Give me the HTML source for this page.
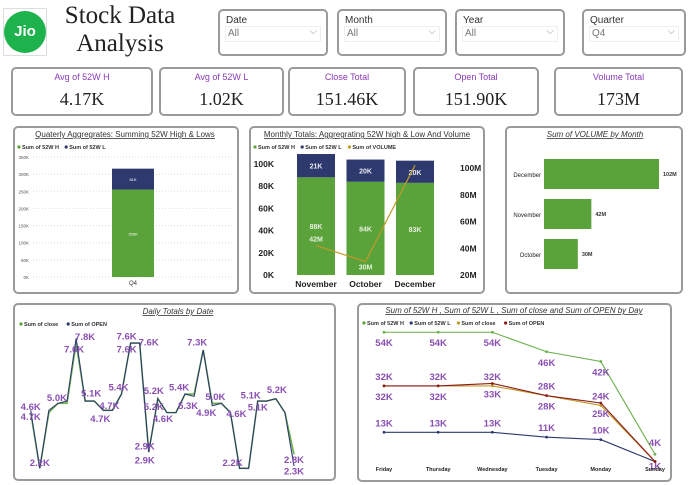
<!DOCTYPE html>
<html><head><meta charset="utf-8"><style>
body{margin:0;width:691px;height:485px;background:#fff;position:relative;overflow:hidden;font-family:"Liberation Sans",sans-serif}
.card{position:absolute;border:2px solid #9a9a9a;border-radius:5px;background:#fff;box-sizing:border-box}
.sl{font-size:10px;color:#333}
.sl .lab{position:absolute;left:6px;top:4px}
.sl .val{position:absolute;left:5px;right:5px;top:15px;height:14px;border:1px solid #eee;color:#777;padding-left:2px;line-height:14px}
.sl .val:after{content:"⌵";position:absolute;right:3px;top:-2px;color:#999}
.kpi .t{position:absolute;left:0;right:0;top:3px;text-align:center;font-size:9px;color:#8a3ab9}
.kpi .v{position:absolute;left:0;right:0;top:20px;text-align:center;font-family:"Liberation Serif",serif;font-size:18px;color:#222}
svg text{font-family:"Liberation Sans",sans-serif}
</style></head><body>
<div class="card" style="left:3px;top:8px;width:44px;height:48px;border:1px solid #ddd;border-radius:0">
<div style="position:absolute;left:0;top:2px;width:42px;height:42px;border-radius:50%;background:#1db24c;color:#fff;font-weight:bold;font-size:15px;line-height:42px;text-align:center">Jio</div></div>
<div style="position:absolute;left:55px;top:2px;width:130px;text-align:center;font-family:'Liberation Serif',serif;font-size:25px;line-height:28px;color:#222">Stock Data<br>Analysis</div>
<div class="card sl" style="left:218px;top:9px;width:110px;height:47px"><span class="lab">Date</span><div class="val">All</div></div>
<div class="card sl" style="left:337px;top:9px;width:110px;height:47px"><span class="lab">Month</span><div class="val">All</div></div>
<div class="card sl" style="left:455px;top:9px;width:110px;height:47px"><span class="lab">Year</span><div class="val">All</div></div>
<div class="card sl" style="left:582px;top:9px;width:104px;height:47px"><span class="lab">Quarter</span><div class="val">Q4</div></div>

<div class="card kpi" style="left:11px;top:67px;width:142px;height:49px"><div class="t">Avg of 52W H</div><div class="v">4.17K</div></div>
<div class="card kpi" style="left:159px;top:67px;width:125px;height:49px"><div class="t">Avg of 52W L</div><div class="v">1.02K</div></div>
<div class="card kpi" style="left:288px;top:67px;width:118px;height:49px"><div class="t">Close Total</div><div class="v">151.46K</div></div>
<div class="card kpi" style="left:413px;top:67px;width:126px;height:49px"><div class="t">Open Total</div><div class="v">151.90K</div></div>
<div class="card kpi" style="left:554px;top:67px;width:129px;height:49px"><div class="t">Volume Total</div><div class="v">173M</div></div>

<div class="card" style="left:13px;top:126px;width:226px;height:168px"></div>
<div class="card" style="left:249px;top:126px;width:236px;height:168px"></div>
<div class="card" style="left:505px;top:126px;width:178px;height:168px"></div>
<div class="card" style="left:13px;top:303px;width:323px;height:178px"></div>
<div class="card" style="left:357px;top:303px;width:315px;height:179px"></div>

<svg id="s" width="691" height="485" style="position:absolute;left:0;top:0" xmlns="http://www.w3.org/2000/svg"></svg>
<script>
// Quarterly
const qCats=["Q4"];const qHigh=[255];const qLow=[61];const qTicks=[0,50,100,150,200,250,300,350];
// Monthly
const mCats=["November","October","December"];const mHigh=[88,84,83];const mLow=[21,20,20];const mVol=[42,30,102];
const mLeftTicks=[0,20,40,60,80,100];const mRightTicks=[20,40,60,80,100];
// Volume by month
const vCats=["December","November","October"];const vVals=[102,42,30];
// Daily
const dClose=[4.6,2.2,4.6,5.0,5.0,7.6,5.1,5.1,4.7,4.7,5.4,7.6,7.6,2.9,5.2,4.6,4.6,5.4,5.4,7.3,5.0,5.0,4.6,2.2,2.2,5.1,5.1,5.2,4.6,2.8];
const dOpen=[4.7,2.2,4.7,5.0,5.1,7.8,5.1,5.1,4.7,4.7,5.4,7.6,7.6,2.9,5.2,4.6,4.6,5.4,5.3,7.3,4.9,5.0,4.6,2.2,2.2,5.1,5.1,5.2,4.6,2.3];
// By day
const dayCats=["Friday","Thursday","Wednesday","Tuesday","Monday","Sunday"];
const day52H=[54,54,54,46,42,4];const day52L=[13,13,13,11,10,1];const dayClose=[32,32,32,28,24,1];const dayOpen=[32,32,33,28,25,1];

const S=document.getElementById('s');const NS="http://www.w3.org/2000/svg";
function mk(t,a,txt){const e=document.createElementNS(NS,t);for(const k in a)e.setAttribute(k,a[k]);if(txt!=null)e.textContent=txt;S.appendChild(e);return e;}
function fmt(v){return (Math.round(v*10)/10).toFixed(1)+"K";}
function title(x,y,t,it,n){const e=mk('text',{x:x,y:y,'text-anchor':'middle','font-size':8,fill:'#333','text-decoration':'underline','font-style':it?'italic':'normal'},t);}
function legend(x,y,items,n){let cx=x;items.forEach(([c,l])=>{const d=mk('circle',{cx:cx+2,cy:y-2,r:1.6,fill:c});const t=mk('text',{x:cx+5,y:y,'font-size':5.5,fill:'#333','font-weight':'bold'},l);cx+=l.length*3.1+10;});}

// Quarterly chart
title(125,137,"Quaterly Aggregrates: Summing 52W High & Lows",false,'quarterly-title');
legend(17,149,[["#5aa23a","Sum of 52W H"],["#2e3a6e","Sum of 52W L"]],'quarterly-legend');
const qy=v=>277-v*120/350;
qTicks.forEach(t=>{const g=mk('line',{x1:33,x2:232,y1:qy(t),y2:qy(t),stroke:'#ddd','stroke-dasharray':'1,2'});const l=mk('text',{x:29,y:qy(t)+2,'text-anchor':'end','font-size':4.5,fill:'#555'},t+"K");});
qCats.forEach((c,i)=>{const x=112;const a=mk('rect',{x:x,y:qy(qHigh[i]),width:42,height:qy(0)-qy(qHigh[i]),fill:'#5aa23a'});
const b=mk('rect',{x:x,y:qy(qHigh[i]+qLow[i]),width:42,height:qy(0)-qy(qLow[i]),fill:'#2e3a6e'});
const t1=mk('text',{x:x+21,y:(qy(0)+qy(qHigh[i]))/2+2,'text-anchor':'middle','font-size':4,fill:'#fff'},qHigh[i]+"K");
const t2=mk('text',{x:x+21,y:(qy(qHigh[i])+qy(qHigh[i]+qLow[i]))/2+2,'text-anchor':'middle','font-size':4,fill:'#fff'},qLow[i]+"K");
const xl=mk('text',{x:x+21,y:285,'text-anchor':'middle','font-size':6,fill:'#333'},c);});

// Monthly chart
title(367,137,"Monthly Totals: Aggregrating 52W high & Low And Volume",false,'monthly-title');
legend(253,149,[["#5aa23a","Sum of 52W H"],["#2e3a6e","Sum of 52W L"],["#c09a2a","Sum of VOLUME"]],'monthly-legend');
const my=v=>275-v*1.11;const ry=v=>275-(v-20)*107/80;const mx=i=>297+i*49.5;
mLeftTicks.forEach(t=>{const l=mk('text',{x:274,y:my(t)+3,'text-anchor':'end','font-size':8.5,'font-weight':'bold',fill:'#222'},t+"K");});
mRightTicks.forEach(t=>{const l=mk('text',{x:460,y:ry(t)+3,'font-size':8.5,'font-weight':'bold',fill:'#222'},t+"M");});
mCats.forEach((c,i)=>{const x=mx(i);
const a=mk('rect',{x:x,y:my(mHigh[i]),width:38,height:my(0)-my(mHigh[i]),fill:'#5aa23a'});
const b=mk('rect',{x:x,y:my(mHigh[i]+mLow[i]),width:38,height:my(0)-my(mLow[i]),fill:'#2e3a6e'});
const t1=mk('text',{x:x+19,y:my(mHigh[i]/2)+3,'text-anchor':'middle','font-size':7,'font-weight':'bold',fill:'#e8f0e0'},mHigh[i]+"K");
const t2=mk('text',{x:x+19,y:my(mHigh[i]+mLow[i]/2)+3,'text-anchor':'middle','font-size':7,'font-weight':'bold',fill:'#e8e8f0'},mLow[i]+"K");
const xl=mk('text',{x:x+19,y:287,'text-anchor':'middle','font-size':8.5,'font-weight':'bold',fill:'#222'},c);});
const vp=mk('polyline',{points:mVol.map((v,i)=>(mx(i)+19)+","+ry(v)).join(" "),fill:'none',stroke:'#c09a2a','stroke-width':1.2});
mVol.forEach((v,i)=>{if(i==2)return;const t=mk('text',{x:mx(i)+19,y:ry(v)-4+(i==1?12:0),'text-anchor':'middle','font-size':7,'font-weight':'bold',fill:'#e8f0e0'},v+"M");});

// Volume by month
title(595,137,"Sum of VOLUME by Month",true,'volume-title');
const vx=v=>544+v*115/102;
vCats.forEach((c,i)=>{const y=159+i*40;const r=mk('rect',{x:544,y:y,width:vx(vVals[i])-544,height:30,fill:'#5aa23a'});
const l=mk('text',{x:541,y:y+18,'text-anchor':'end','font-size':6,fill:'#222'},c);
const v=mk('text',{x:vx(vVals[i])+4,y:y+17,'font-size':5.5,'font-weight':'bold',fill:'#333'},vVals[i]+"M");});

// Daily
title(178,314,"Daily Totals by Date",true,'daily-title');
legend(19,326,[["#5aa23a","Sum of close"],["#2e3a6e","Sum of OPEN"]],'daily-legend');
const dx=i=>30.7+i*9.08;const dy=v=>468.3-(v-2.2)*23.2;
const pc=mk('polyline',{points:dClose.map((v,i)=>dx(i)+","+dy(v)).join(" "),fill:'none',stroke:'#6ab04c','stroke-width':1.6});
const po=mk('polyline',{points:dOpen.map((v,i)=>dx(i)+","+dy(v)).join(" "),fill:'none',stroke:'#2e3a6e','stroke-width':1.1});
// label placement: [index, series, dx offset, dy offset of label centre]
const dLabelSpec=[[0,'c',0,-6],[0,'o',0,6],[1,'c',0,-6],[3,'c',-1,-6],[5,'o',9,-2],[5,'c',-2,6],[6,'c',6,-8],[8,'o',-3,8],[9,'c',-3,-5],[10,'c',-3,-7],[11,'c',-4,-7],[11,'o',-4,6],[12,'c',9,-1],[13,'c',-4,-6],[13,'o',-4,8],[14,'c',-4,-8],[14,'o',-4,8],[15,'o',-4,6],[17,'c',-6,-7],[18,'o',-6,9],[19,'c',-6,-8],[21,'c',-6,-7],[20,'o',-6,7],[22,'c',6,1],[23,'c',-7,-6],[25,'c',-7,-6],[26,'o',-9,6],[27,'c',1,-9],[29,'c',0,5],[29,'o',0,5]];
dLabelSpec.forEach(([i,s,ox,oy])=>{const v=s==='c'?dClose[i]:dOpen[i];const t=mk('text',{x:dx(i)+ox,y:dy(v)+oy+3.5,'text-anchor':'middle','font-size':9.5,'font-weight':'bold',fill:'#8a4fb3'},fmt(v));

});

// By day
title(514,313,"Sum of 52W H , Sum of 52W L , Sum of close and Sum of OPEN by Day",true,'day-title');
legend(362,325,[["#5aa23a","Sum of 52W H"],["#2e3a6e","Sum of 52W L"],["#c09a2a","Sum of close"],["#8b1a1a","Sum of OPEN"]],'day-legend');
const wx=i=>384+i*54.2;const wy=v=>464-v*2.44;
[[day52H,'#6ab04c','day-52w-high-line'],[day52L,'#2e3a6e','day-52w-low-line'],[dayClose,'#c09a2a','day-close-line'],[dayOpen,'#8b1a1a','day-open-line']].forEach(([arr,c,n])=>{
const p=mk('polyline',{points:arr.map((v,i)=>wx(i)+","+wy(v)).join(" "),fill:'none',stroke:c,'stroke-width':1.1});
arr.forEach((v,i)=>{const d=mk('circle',{cx:wx(i),cy:wy(v),r:1.4,fill:c});});
});
day52H.forEach((v,i)=>{const t=mk('text',{x:wx(i),y:wy(v)+(i==5?-8:14),'text-anchor':'middle','font-size':9.5,'font-weight':'bold',fill:'#8a4fb3'},v+"K");});
day52L.forEach((v,i)=>{const t=mk('text',{x:wx(i),y:wy(v)-6+(i==5?14:0),'text-anchor':'middle','font-size':9.5,'font-weight':'bold',fill:'#8a4fb3'},v+"K");});
dayClose.forEach((v,i)=>{if(i==5)return;const t=mk('text',{x:wx(i),y:wy(v)-6,'text-anchor':'middle','font-size':9.5,'font-weight':'bold',fill:'#8a4fb3'},v+"K");});
dayOpen.forEach((v,i)=>{if(i==5)return;const t=mk('text',{x:wx(i),y:wy(v)+14,'text-anchor':'middle','font-size':9.5,'font-weight':'bold',fill:'#8a4fb3'},v+"K");});
dayCats.forEach((c,i)=>{const t=mk('text',{x:wx(i),y:471,'text-anchor':'middle','font-size':5.5,'font-weight':'bold',fill:'#222'},c);});
</script>
</body></html>
